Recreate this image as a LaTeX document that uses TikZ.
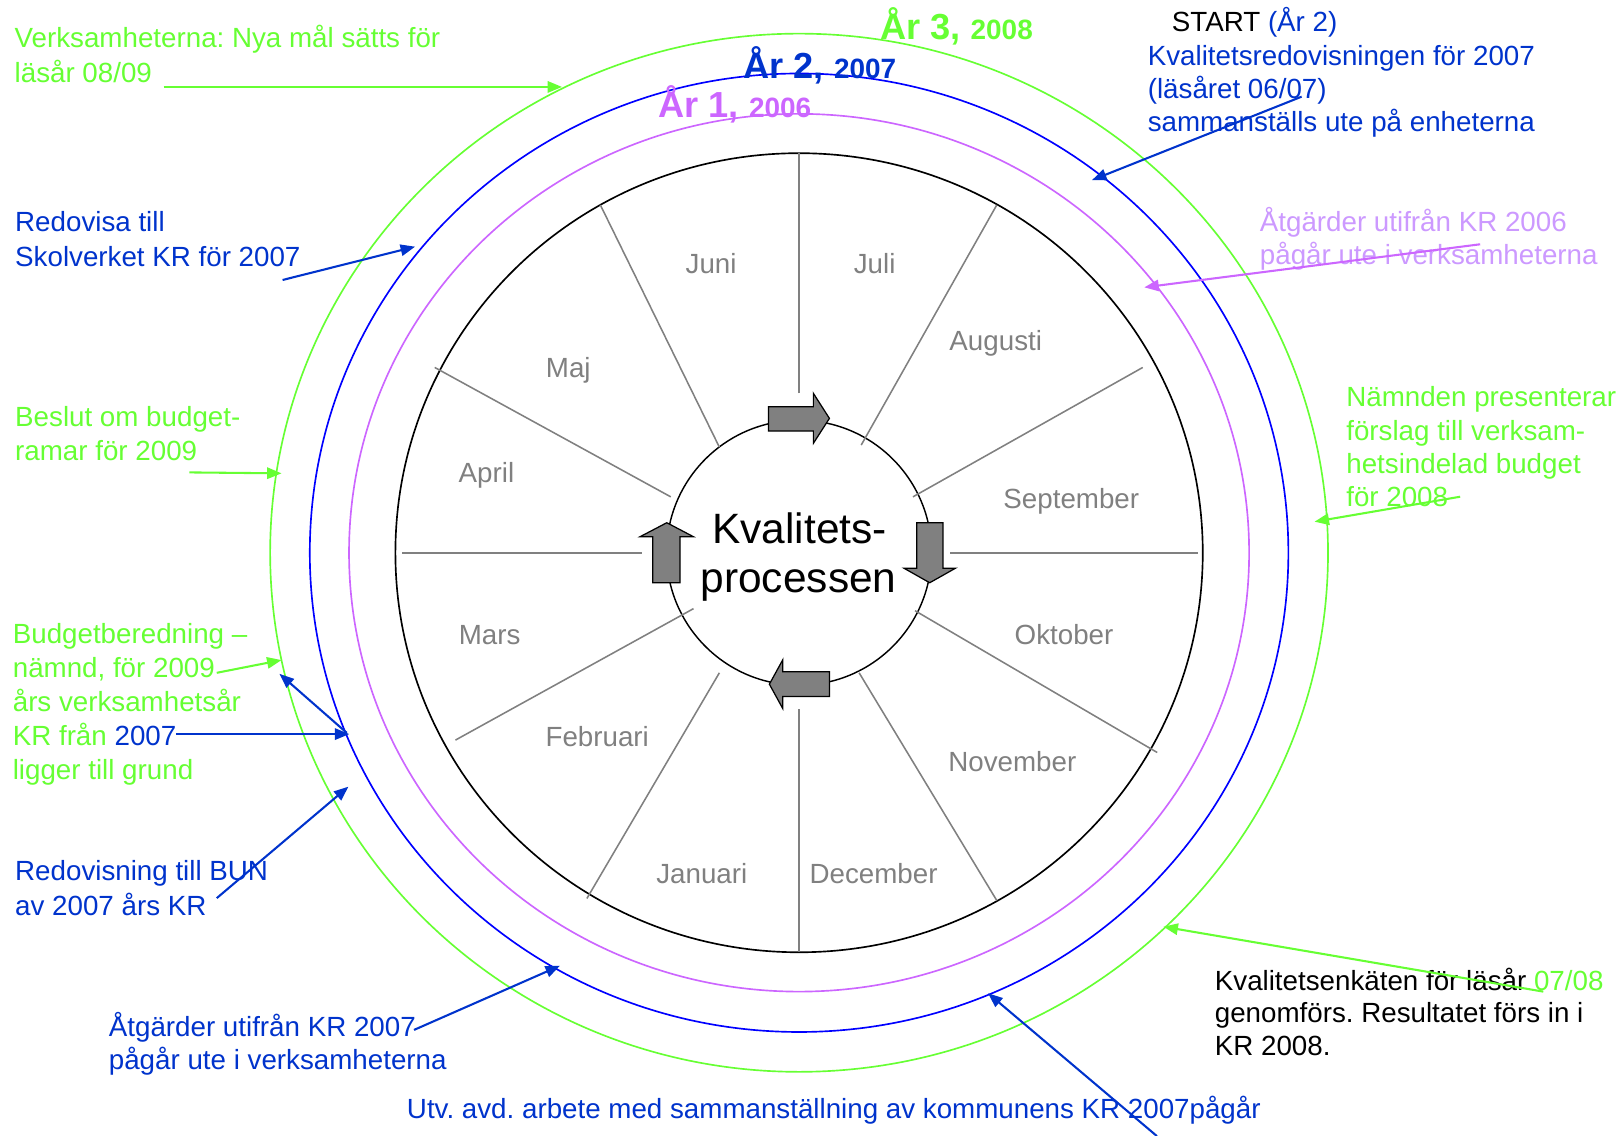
\documentclass[tikz,border=0pt]{standalone}
\usepackage{fontspec}
\setmainfont{Liberation Sans}
\usetikzlibrary{arrows.meta}
\frenchspacing
\definecolor{lgreen}{RGB}{102,255,51}
\definecolor{tblue}{RGB}{0,51,204}
\definecolor{cblue}{RGB}{0,0,255}
\definecolor{cmag}{RGB}{204,102,255}
\definecolor{lpurple}{RGB}{204,153,255}
\definecolor{mgray}{RGB}{128,128,128}
\begin{document}
\begin{tikzpicture}[x=1pt,y=-1pt,
  txt/.style={font=\fontsize{26.8}{32}\selectfont, inner sep=0pt, anchor=base west},
  gtxt/.style={txt, text=lgreen},
  btxt/.style={txt, text=tblue},
  ptxt/.style={txt, text=lpurple},
  ktxt/.style={txt, text=black},
  month/.style={font=\fontsize{26.8}{32}\selectfont, inner sep=0pt, anchor=base, text=mgray},
  yearlbl/.style={inner sep=0pt, anchor=base west, font=\bfseries},
  conn/.style={line width=2pt, -{Triangle[length=14pt,width=11pt]}},
  gconn/.style={conn, draw=lgreen},
  bconn/.style={conn, draw=tblue},
  pconn/.style={conn, draw=cmag},
  spoke/.style={draw=mgray, line width=1.5pt},
  ring/.style={line width=1.6pt},
  blockarrow/.style={fill=mgray, draw=black, line width=1.2pt, line join=miter}
]
\useasboundingbox (0,0) rectangle (1568,1097);

% rings
\draw[ring, draw=lgreen] (772,534) ellipse [x radius=511pt, y radius=501.5pt];
\draw[ring, draw=cblue] (772,534) ellipse [x radius=472.7pt, y radius=463pt];
\draw[ring, draw=cmag] (772,534) ellipse [x radius=434.8pt, y radius=424pt];
\draw[ring, draw=black] (772,534) ellipse [x radius=390pt, y radius=386pt];
\draw[line width=1.4pt, draw=black] (772,534) circle [radius=128pt];

% spokes
\draw[spoke] (772,380) -- (772,148);
\draw[spoke] (832,430) -- (963,198);
\draw[spoke] (882,480) -- (1104,355);
\draw[spoke] (918,534) -- (1157,534);
\draw[spoke] (884,590) -- (1118,727);
\draw[spoke] (830,650) -- (963,870);
\draw[spoke] (772,685) -- (772,920);
\draw[spoke] (695,650) -- (567,868);
\draw[spoke] (670,588) -- (440,715);
\draw[spoke] (620,534) -- (388,534);
\draw[spoke] (648,480) -- (420,355);
\draw[spoke] (695,432) -- (580,198);

% block arrows
\draw[blockarrow] (742.4,393) -- (785.8,393) -- (785.8,380) -- (801.3,404.2) -- (785.8,428.3) -- (785.8,416.4) -- (742.4,416.4) -- cycle;
\draw[blockarrow] (885.7,505) -- (911,505) -- (911,549) -- (923,549) -- (898.2,563) -- (873.4,549) -- (885.7,549) -- cycle;
\draw[blockarrow] (801.3,649) -- (756.2,649) -- (756.2,637.5) -- (743.3,661) -- (756.2,684.5) -- (756.2,673) -- (801.3,673) -- cycle;
\draw[blockarrow] (630.6,563) -- (630.6,518.5) -- (618.4,518.5) -- (644.2,505) -- (669.9,518.5) -- (657,518.5) -- (657,563) -- cycle;

% centre text
\node[inner sep=0pt, anchor=base, font=\fontsize{41}{48}\selectfont] (c1) at (772.5,525) {Kvalitets-};
\node[inner sep=0pt, anchor=base, font=\fontsize{41}{48}\selectfont] (c2) at (771.5,572.6) {processen};

% months
\node[month] (m6) at (687,264) {Juni};
\node[month] (m7) at (845,264) {Juli};
\node[month] (m8) at (962,339) {Augusti};
\node[month] (m9) at (1035,491) {September};
\node[month] (m10) at (1028,623) {Oktober};
\node[month] (m11) at (978,745) {November};
\node[month] (m12) at (844,854) {December};
\node[month] (m1) at (678,854) {Januari};
\node[month] (m2) at (577,721) {Februari};
\node[month] (m3) at (473,623) {Mars};
\node[month] (m4) at (470,466) {April};
\node[month] (m5) at (549,365) {Maj};

% year labels
\node[yearlbl, text=lgreen] (y3) at (850,38) {\fontsize{35}{40}\selectfont År 3, \fontsize{27}{32}\selectfont 2008};
\node[yearlbl, text=tblue] (y2) at (718,76) {\fontsize{35}{40}\selectfont År 2, \fontsize{27}{32}\selectfont 2007};
\node[yearlbl, text=cmag] (y1) at (636,114) {\fontsize{35}{40}\selectfont År 1, \fontsize{27}{32}\selectfont 2006};

% top left
\node[gtxt] (va1) at (14,46) {Verksamheterna: Nya mål sätts för};
\node[gtxt] (va2) at (14,80) {läsår 08/09};
\coordinate (vaS) at (158,84); \coordinate (vaE) at (543,84);
\draw[gconn] (vaS) -- (vaE);

% START block
\node[ktxt] (st1) at (1132,30.6) {START \textcolor{tblue}{(År 2)}};
\node[btxt] (st2) at (1108.7,62.8) {Kvalitetsredovisningen för 2007};
\node[btxt] (st3) at (1108.7,95) {(läsåret 06/07)};
\node[btxt] (st4) at (1108.7,127.2) {sammanställs ute på enheterna};
\coordinate (stS) at (1257.5,93.4); \coordinate (stE) at (1055,174);
\draw[bconn] (stS) -- (stE);

% KR 2006
\node[ptxt] (k61) at (1217,223.8) {Åtgärder utifrån KR 2006};
\node[ptxt] (k62) at (1217,256) {pågår ute i verksamheterna};
\coordinate (k6S) at (1430,236); \coordinate (k6E) at (1105.5,277.6);
\draw[pconn] (k6S) -- (k6E);

% Nämnden
\node[gtxt] (n1) at (1300.5,393) {Nämnden presenterar};
\node[gtxt] (n2) at (1300.5,425.8) {förslag till verksam-};
\node[gtxt] (n3) at (1300.5,457.3) {hetsindelad budget};
\node[gtxt] (n4) at (1300.5,489.5) {för 2008};
\coordinate (nS) at (1410.6,479.9); \coordinate (nE) at (1270,504);
\draw[gconn] (nS) -- (nE);

% Kvalitetsenkäten
\node[ktxt] (ke1) at (1173.5,956.5) {Kvalitetsenkäten för läsår \textcolor{lgreen}{07/08}};
\node[ktxt] (ke2) at (1173.5,988) {genomförs. Resultatet förs in i};
\node[ktxt] (ke3) at (1173.5,1020) {KR 2008.};
\coordinate (keS) at (1491,958); \coordinate (keE) at (1124,895.3);
\draw[gconn] (keS) -- (keE);

% Utv
\node[btxt] (u1) at (393,1081) {Utv. avd. arbete med sammanställning av kommunens KR 2007pågår};
\coordinate (uS) at (1117.7,1097.6); \coordinate (uE) at (954.6,959.6);
\draw[bconn] (uS) -- (uE);

% Åtgärder KR 2007
\node[btxt] (k71) at (105,1001) {Åtgärder utifrån KR 2007};
\node[btxt] (k72) at (105,1033) {pågår ute i verksamheterna};
\coordinate (k7S) at (400,995); \coordinate (k7E) at (541,933);
\draw[bconn] (k7S) -- (k7E);

% BUN
\node[btxt] (b1) at (14.5,851) {Redovisning till BUN};
\node[btxt] (b2) at (14.5,884) {av 2007 års KR};
\coordinate (bS) at (209.4,867.7); \coordinate (bE) at (336.6,760);
\draw[bconn] (bS) -- (bE);

% Budgetberedning
\node[gtxt] (bb1) at (12.2,621.6) {Budgetberedning –};
\node[gtxt] (bb2) at (12.2,654.4) {nämnd, för 2009};
\node[gtxt] (bb3) at (12.2,687.6) {års verksamhetsår};
\node[gtxt] (bb4) at (12.2,719.8) {KR från \textcolor{tblue}{2007}};
\node[gtxt] (bb5) at (12.2,752.7) {ligger till grund};
\coordinate (bbS) at (209.4,650); \coordinate (bbE) at (272,637.7);
\draw[gconn] (bbS) -- (bbE);
\coordinate (bdS) at (335,708); \coordinate (bdE) at (270,651);
\draw[bconn] (bdS) -- (bdE);
\coordinate (bhS) at (170,709.2); \coordinate (bhE) at (337.5,709.2);
\draw[bconn] (bhS) -- (bhE);

% Beslut
\node[gtxt] (be1) at (14.5,412.2) {Beslut om budget-};
\node[gtxt] (be2) at (14.5,445) {ramar för 2009};
\coordinate (beS) at (183,456.4); \coordinate (beE) at (272,457.3);
\draw[gconn] (beS) -- (beE);

% Redovisa
\node[btxt] (r1) at (14.5,223.8) {Redovisa till};
\node[btxt] (r2) at (14.5,257) {Skolverket KR för 2007};
\coordinate (rS) at (273,270.5); \coordinate (rE) at (401,238.3);
\draw[bconn] (rS) -- (rE);
\end{tikzpicture}
\end{document}
